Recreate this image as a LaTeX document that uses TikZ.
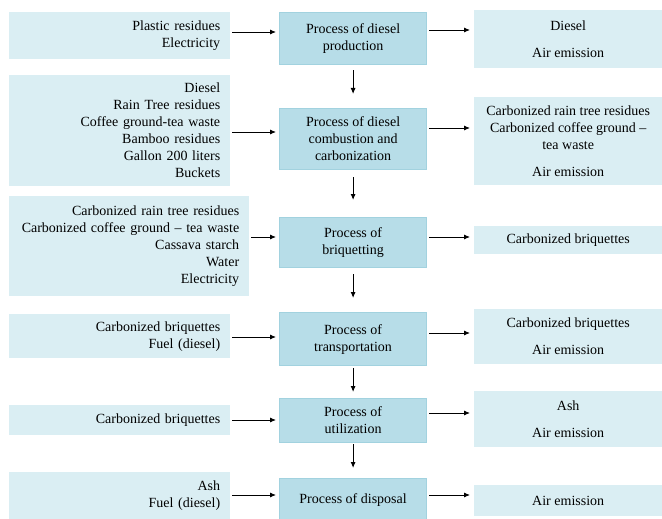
\documentclass[tikz,border=0pt]{standalone}
\usepackage{fontspec}
\setmainfont{Liberation Serif}
\usetikzlibrary{arrows.meta}
\definecolor{lightbox}{HTML}{DAEEF3}
\definecolor{procbox}{HTML}{B7DDE8}
\definecolor{procedge}{HTML}{A2D2DF}
\tikzset{
  inbox/.style={anchor=north west, fill=lightbox, inner xsep=10pt, inner ysep=2pt,
    align=right, font=\fontsize{14}{17}\selectfont},
  outbox/.style={anchor=north west, fill=lightbox, inner xsep=4pt, inner ysep=2pt,
    align=center, font=\fontsize{14}{17}\selectfont},
  procnode/.style={anchor=north west, fill=procbox, draw=procedge, line width=1.2pt,
    inner sep=2pt, align=center, minimum width=147pt, font=\fontsize{14}{17}\selectfont},
  arr/.style={-{Latex[length=6pt,width=5pt]}, line width=0.9pt, black},
}
\begin{document}
\begin{tikzpicture}[x=1pt,y=-1pt]
\useasboundingbox (0,0) rectangle (662,519);
% left input boxes
\node[inbox, text width=201pt, minimum height=47pt] (l1) at (9,12) {Plastic residues\\Electricity};
\node[inbox, text width=201pt, minimum height=111pt] (l2) at (9,75) {Diesel\\Rain Tree residues\\Coffee ground-tea waste\\Bamboo residues\\Gallon 200 liters\\Buckets};
\node[inbox, text width=220pt, minimum height=100pt] (l3) at (9,196) {Carbonized rain tree residues\\Carbonized coffee ground -- tea waste\\Cassava starch\\Water\\Electricity};
\node[inbox, text width=201pt, minimum height=44pt] (l4) at (9,314) {Carbonized briquettes\\Fuel (diesel)};
\node[inbox, text width=201pt, minimum height=30pt] (l5) at (9,405) {Carbonized briquettes};
\node[inbox, text width=201pt, minimum height=47pt] (l6) at (9,472) {Ash\\Fuel (diesel)};
% process boxes
\node[procnode, minimum height=52pt] (m1) at (279,12) {Process of diesel\\production};
\node[procnode, minimum height=61pt] (m2) at (279,108) {Process of diesel\\combustion and\\carbonization};
\node[procnode, minimum height=50pt] (m3) at (279,217) {Process of\\briquetting};
\node[procnode, minimum height=53pt] (m4) at (279,312) {Process of\\transportation};
\node[procnode, minimum height=44pt] (m5) at (279,398) {Process of\\utilization};
\node[procnode, minimum height=42pt] (m6) at (279,478) {Process of disposal};
% output boxes
\node[outbox, minimum width=188pt, minimum height=58pt] (r1) at (474,10) {Diesel\\[10pt]Air emission};
\node[outbox, minimum width=188pt, minimum height=88pt] (r2) at (474,97) {Carbonized rain tree residues\\Carbonized coffee ground --\\tea waste\\[10pt]Air emission};
\node[outbox, minimum width=188pt, minimum height=28pt] (r3) at (474,226) {Carbonized briquettes};
\node[outbox, minimum width=188pt, minimum height=55pt] (r4) at (474,309) {Carbonized briquettes\\[10pt]Air emission};
\node[outbox, minimum width=188pt, minimum height=56pt] (r5) at (474,391) {Ash\\[10pt]Air emission};
\node[outbox, minimum width=188pt, minimum height=31pt] (r6) at (474,485) {Air emission};
% arrow heights
\coordinate (a1) at (0,32); \coordinate (a2) at (0,132); \coordinate (a3) at (0,237);
\coordinate (a4) at (0,337); \coordinate (a5) at (0,420); \coordinate (a6) at (0,495);
\coordinate (b1) at (0,30); \coordinate (b2) at (0,128); \coordinate (b3) at (0,237);
\coordinate (b4) at (0,333); \coordinate (b5) at (0,413); \coordinate (b6) at (0,495);
% horizontal arrows
\foreach \i in {1,...,6}{
  \draw[arr, shorten <=2pt, shorten >=3pt] (l\i.east |- a\i) -- (m\i.west |- a\i);
  \draw[arr, shorten <=2pt, shorten >=4pt] (m\i.east |- b\i) -- (r\i.west |- b\i);
}
% vertical arrows
\draw[arr, shorten <=5pt, shorten >=14pt] (m1.south) -- (m2.north);
\draw[arr, shorten <=7pt, shorten >=17pt] (m2.south) -- (m3.north);
\draw[arr, shorten <=6pt, shorten >=14pt] (m3.south) -- (m4.north);
\draw[arr, shorten <=2pt, shorten >=6pt] (m4.south) -- (m5.north);
\draw[arr, shorten <=1pt, shorten >=10pt] (m5.south) -- (m6.north);
\end{tikzpicture}
\end{document}
